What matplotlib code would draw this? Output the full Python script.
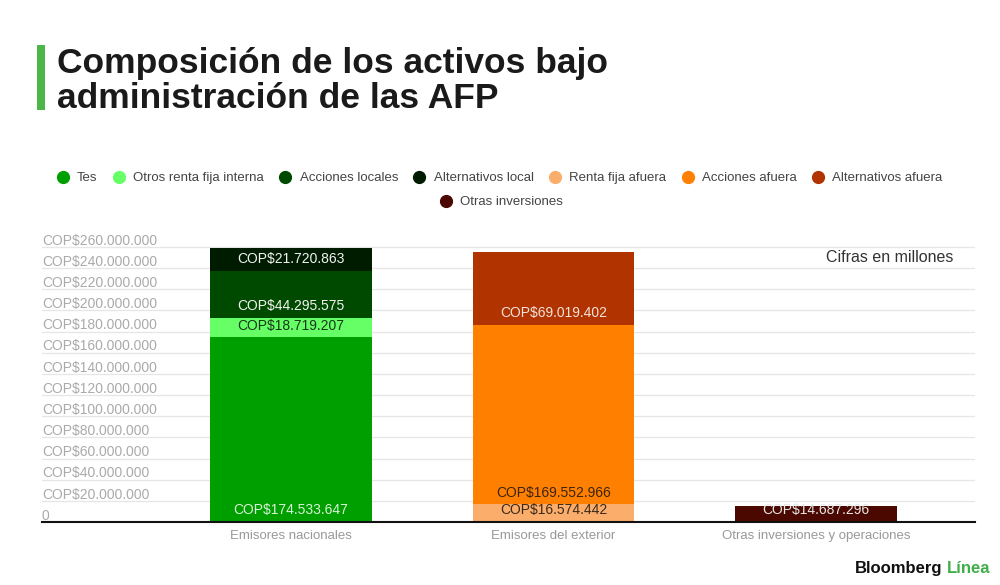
import matplotlib
matplotlib.use("Agg")
import matplotlib.pyplot as plt
from matplotlib.lines import Line2D
from matplotlib.patches import Rectangle
import matplotlib.transforms as mtransforms

plt.rcParams['font.family'] = ['Liberation Sans', 'DejaVu Sans']

# ---------------- data ----------------
categories = ['Emisores nacionales', 'Emisores del exterior', 'Otras inversiones y operaciones']
series_names = ['Tes', 'Otros renta fija interna', 'Acciones locales', 'Alternativos local',
                'Renta fija afuera', 'Acciones afuera', 'Alternativos afuera', 'Otras inversiones']
tes = [174533647, 0, 0]
otros_renta_fija_interna = [18719207, 0, 0]
acciones_locales = [44295575, 0, 0]
alternativos_local = [21720863, 0, 0]
renta_fija_afuera = [0, 16574442, 0]
acciones_afuera = [0, 169552966, 0]
alternativos_afuera = [0, 69019402, 0]
otras_inversiones = [0, 0, 14687296]
series_values = [tes, otros_renta_fija_interna, acciones_locales, alternativos_local,
                 renta_fija_afuera, acciones_afuera, alternativos_afuera, otras_inversiones]
y_ticks = list(range(0, 260000001, 20000000))

# ---------------- style ----------------
colors = ['#009f00', '#66ff66', '#004a00', '#001c00',
          '#fbae6c', '#ff7f00', '#b03300', '#4a0800']
label_colors = ['#d8f2d8', '#163816', '#f2f2f2', '#f2f2f2',
                '#3a2818', '#3a2410', '#f2e4dc', '#e8e8e8']


def fmt(v):
    return 'COP$' + f'{v:,}'.replace(',', '.')


fig = plt.figure(figsize=(10, 5.85), dpi=100)
fig.patch.set_facecolor('white')
ax = fig.add_axes([0.042, 1 - 522 / 585, 0.933, 283.5 / 585])

x = list(range(len(categories)))
bottom = [0] * len(categories)
bar_w = 0.617
for name, vals, c, lc in zip(series_names, series_values, colors, label_colors):
    ax.bar(x, vals, bottom=bottom, width=bar_w, color=c, label=name, zorder=2)
    for xi, v, b in zip(x, vals, bottom):
        if v > 0:
            ax.annotate(fmt(v), (xi, b), xytext=(0, 3.5), textcoords='offset points',
                        ha='center', va='bottom', fontsize=10, color=lc, zorder=3)
    bottom = [b + v for b, v in zip(bottom, vals)]

ax.set_xlim(-0.949, 2.606)
ax.set_ylim(0, 268e6)
ax.set_yticks(y_ticks)
ax.set_yticklabels([])
ax.tick_params(axis='both', length=0)
ax.yaxis.grid(True, color='#e6e6e6', linewidth=0.9)
ax.set_axisbelow(True)
for s in ['top', 'right', 'left']:
    ax.spines[s].set_visible(False)
ax.spines['bottom'].set_color('#111111')
ax.spines['bottom'].set_linewidth(1.5)

# y tick labels inside, above gridlines
trans = mtransforms.blended_transform_factory(ax.transAxes, ax.transData)
for t in y_ticks:
    lab = '0' if t == 0 else fmt(t)
    ax.annotate(lab, (0, t), xycoords=trans, xytext=(0, -0.5), textcoords='offset points',
                ha='left', va='bottom', fontsize=10, color='#aaaaaa')

ax.set_xticks(x)
ax.set_xticklabels(categories, fontsize=9.5, color='#999999')
ax.tick_params(axis='x', pad=6)

ax.text(953 / 1000, 1 - 257 / 585, 'Cifras en millones', transform=fig.transFigure,
        ha='right', va='center', fontsize=11.5, color='#333333')

# title
fig.add_artist(Rectangle((37 / 1000, 1 - 110 / 585), 8 / 1000, 65 / 585,
                         transform=fig.transFigure, color='#4cb648', lw=0))
fig.text(57 / 1000, 1 - 73 / 585, 'Composición de los activos bajo', fontsize=25.5,
         fontweight='bold', color='#1a1a1a', ha='left', va='baseline')
fig.text(57 / 1000, 1 - 108 / 585, 'administración de las AFP', fontsize=25.5,
         fontweight='bold', color='#1a1a1a', ha='left', va='baseline')

# legend
handles = [Line2D([], [], marker='o', linestyle='none', markersize=8.5,
                  markerfacecolor=c, markeredgecolor=c) for c in colors]
leg1 = fig.legend(handles[:7], series_names[:7], ncol=7, loc='center',
                  bbox_to_anchor=(0.500, 1 - 178 / 585), frameon=False, fontsize=9.5,
                  handlelength=0.8, handletextpad=0.7, columnspacing=1.2, labelcolor='#444444')
leg2 = fig.legend(handles[7:], series_names[7:], ncol=1, loc='center',
                  bbox_to_anchor=(0.502, 1 - 202 / 585), frameon=False, fontsize=9.5,
                  handlelength=0.8, handletextpad=0.7, labelcolor='#444444')

# branding
fig.text(855 / 1000, 1 - 573 / 585, 'Bloomberg', fontsize=12, fontweight='bold',
         color='#111111', ha='left', va='baseline')
fig.text(990 / 1000, 1 - 573 / 585, 'Línea', fontsize=12, fontweight='bold',
         color='#3fae49', ha='right', va='baseline')

fig.savefig('out.png', dpi=100, facecolor='white')
